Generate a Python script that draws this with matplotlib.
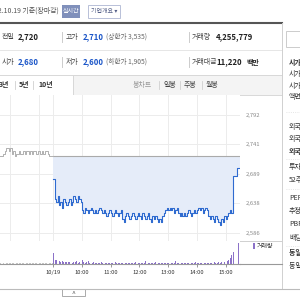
# %% 1.0 Libraries and data

import numpy as np
import matplotlib.pyplot as plt
from matplotlib.patches import Rectangle

plt.rcParams['font.family'] = ['Noto Sans CJK KR', 'DejaVu Sans']

prev_close = 2720
price_ticks = [2792, 2741, 2689, 2638, 2586]
price_labels = ['2,792', '2,741', '2,689', '2,638', '2,586']
time_labels = ['10/19', '10:00', '11:00', '12:00', '13:00', '14:00', '15:00']

# previous session tail (3-min steps, 13:39 - 15:30)
prev_price = [2720, 2720, 2725, 2730, 2735, 2735, 2730, 2735, 2725, 2730,
              2720, 2725, 2725, 2730, 2725, 2725, 2730, 2725, 2730, 2730,
              2725, 2730, 2725, 2730, 2730, 2725, 2730, 2730, 2725, 2730,
              2725, 2730, 2730, 2725, 2720, 2720, 2720]
prev_volume = [15, 20, 18, 25, 15, 20, 18, 22, 15, 20,
               18, 15, 20, 22, 15, 18, 20, 15, 22, 18,
               15, 20, 18, 15, 22, 18, 20, 15, 18, 22,
               20, 18, 25, 20, 22, 25, 30]

# 10/19 session (3-min steps, 09:00 - 15:30)
day_price = [2680, 2645, 2640, 2650, 2635, 2640, 2630, 2645, 2640, 2635,
             2640, 2645, 2635, 2640, 2650, 2645, 2640, 2650, 2645, 2640,
             2625, 2620, 2630, 2625, 2620, 2625, 2630, 2625, 2620, 2625,
             2620, 2625, 2630, 2625, 2620, 2625, 2620, 2615, 2620, 2625,
             2620, 2615, 2620, 2625, 2620, 2615, 2620, 2625, 2610, 2605,
             2615, 2620, 2615, 2610, 2615, 2620, 2615, 2610, 2615, 2620,
             2615, 2610, 2620, 2615, 2610, 2615, 2620, 2610, 2605, 2615,
             2610, 2615, 2610, 2605, 2610, 2605, 2615, 2620, 2625, 2630,
             2625, 2630, 2625, 2630, 2620, 2625, 2630, 2620, 2615, 2620,
             2615, 2620, 2615, 2620, 2625, 2620, 2615, 2620, 2625, 2620,
             2625, 2630, 2625, 2630, 2620, 2625, 2630, 2625, 2615, 2610,
             2615, 2610, 2605, 2615, 2610, 2605, 2600, 2610, 2605, 2615,
             2610, 2615, 2620, 2625, 2620, 2685, 2685, 2685, 2700, 2700]
day_volume = [220, 80, 90, 60, 70, 50, 60, 40, 50, 45,
              40, 35, 45, 30, 40, 35, 60, 30, 40, 35,
              90, 40, 30, 35, 60, 30, 25, 30, 40, 25,
              30, 25, 20, 35, 25, 30, 20, 25, 30, 20,
              25, 20, 30, 45, 20, 25, 30, 20, 25, 20,
              20, 25, 20, 30, 20, 25, 20, 35, 20, 25,
              20, 25, 30, 20, 60, 25, 20, 25, 20, 25,
              20, 35, 25, 20, 25, 20, 25, 30, 20, 25,
              25, 20, 30, 20, 25, 55, 20, 25, 30, 20,
              25, 20, 30, 25, 20, 25, 30, 20, 25, 40,
              25, 30, 20, 25, 45, 25, 30, 20, 25, 30,
              25, 30, 35, 25, 30, 35, 30, 50, 35, 40,
              45, 60, 80, 120, 180, 240, 0, 0, 0, 420]

quote_row1 = [('전일', '2,720', '#222222', ''), ('고가', '2,710', '#1a55c8', '(상한가 3,535)'),
              ('거래량', '4,255,779', '#222222', '')]
quote_row2 = [('시가', '2,680', '#1a55c8', ''), ('저가', '2,600', '#1a55c8', '(하한가 1,905)'),
              ('거래대금', '11,220', '#222222', '백만')]

side_items = [('시가총액', True), ('시가총액', False), ('시가총액순위', False), ('액면가|매매단위', False),
              ('외국인한도주식수(A)', False), ('외국인보유주식수(B)', False), ('외국인소진율(B/A)', True),
              ('투자의견|목표주가', False), ('52주최고|최저', False),
              ('PER|EPS', False), ('추정PER|EPS', False), ('PBR|BPS', False), ('배당수익률', False),
              ('동일업종 PER', True), ('동일업종 등락률', False)]
side_y = [62, 74, 86, 97, 127, 139, 151, 167, 180, 198, 211, 224, 238, 253, 266]

# %% 2.0 Page frame

fig = plt.figure(figsize=(3, 3), dpi=100)
bg = fig.add_axes([0, 0, 1, 1])
bg.set_xlim(0, 300)
bg.set_ylim(300, 0)
bg.axis('off')


def txt(x, y, s, size=5, color='#333333', weight='normal', ha='left'):
    bg.text(x, y, s, fontsize=size, color=color, fontweight=weight, ha=ha, va='center')


# top line
txt(-6, 11, '22.10.19 기준(장마감)', size=5, color='#555555')
bg.add_patch(Rectangle((62, 5), 18, 13, facecolor='#8090bb', edgecolor='none'))
txt(71, 11.5, '실시간', size=4.3, color='white', ha='center')
bg.add_patch(Rectangle((88, 5), 32, 13, facecolor='white', edgecolor='#b8c0d8', lw=0.7))
txt(104, 11.5, '기업개요 ▾', size=4.3, color='#556088', ha='center')
bg.plot([0, 282], [23, 23], color='#555555', lw=1.5)

# quote rows
lab_x = [2, 66, 192]
val_x = [18, 83, 216]
for row, y in [(quote_row1, 37), (quote_row2, 62)]:
    for i, (lab, val, col, extra) in enumerate(row):
        txt(lab_x[i], y, lab, size=5, color='#444444')
        txt(val_x[i], y, val, size=5.6, color=col, weight='bold')
        if extra:
            if i == 2:
                txt(246, y, extra, size=5, color='#222222', weight='bold')
            else:
                txt(106, y, extra, size=4.8, color='#666666')
    for sx in [62, 189]:
        bg.plot([sx, sx], [y - 5, y + 5], color='#cccccc', lw=0.7)
bg.plot([0, 282], [50, 50], color='#e6e6e6', lw=0.7)

# period tabs
bg.add_patch(Rectangle((73, 75), 209, 20, facecolor='#f4f4f4', edgecolor='none'))
bg.plot([0, 282], [75, 75], color='#d8d8d8', lw=0.7)
bg.plot([0, 282], [95, 95], color='#d8d8d8', lw=0.7)
bg.plot([73, 73], [75, 95], color='#d8d8d8', lw=0.7)
for x, s in [(-1, '3년'), (19, '5년'), (38, '10년')]:
    txt(x, 85, s, size=5, color='#333333', weight='bold')
for sx in [15, 33, 159, 180, 202]:
    bg.plot([sx, sx], [81, 89], color='#d0d0d0', lw=0.6)
txt(133, 85, '봉차트', size=5, color='#999999')
for x, s in [(163, '일봉'), (184, '주봉'), (206, '월봉')]:
    txt(x, 85, s, size=5, color='#444444')

# right sidebar
bg.plot([282, 282], [23, 289], color='#d0d0d0', lw=0.7)
bg.add_patch(Rectangle((286, 31), 20, 16, facecolor='white', edgecolor='#cccccc', lw=0.7))
for (s, bold), y in zip(side_items, side_y):
    txt(289, y, s, size=5, color='#333333', weight='bold' if bold else 'normal')
for y in [112, 159, 189, 246]:
    bg.plot([286, 300], [y, y], color='#dddddd', lw=0.6, ls=':')

# bottom edge
bg.plot([0, 300], [289, 289], color='#bbbbbb', lw=0.8)
bg.add_patch(Rectangle((62, 289), 23, 7, facecolor='white', edgecolor='#aaaaaa', lw=0.7))
txt(73.5, 293.5, '^', size=5, color='#555555', ha='center')

# %% 3.0 Price panel

prev_t = -1.85 + 0.05 * np.arange(len(prev_price))
day_t = 0.05 * np.arange(len(day_price))
day_t_end = np.append(day_t, 6.5)
day_p_end = np.append(day_price, day_price[-1])

ax = fig.add_axes([0, 1 - 241 / 300, 240 / 300, 146 / 300])
ax.set_xlim(-1.857, 6.505)
ax.set_ylim(2571.2, 2827.9)
ax.fill_between(day_t_end, day_p_end, prev_close, step='post', color='#e5ecf9', lw=0)
ax.plot([0, 6.5], [prev_close, prev_close], color='#aaaaaa', lw=0.8)
ax.plot(np.append(prev_t, 0), np.append(prev_price, prev_close), color='#b0b0b0', lw=0.7,
        drawstyle='steps-post')
ax.plot(day_t_end, day_p_end, color='#2f6bd0', lw=0.8, drawstyle='steps-post')
ax.set_xticks([-1.5, -0.5, 0, 1, 2, 3, 4, 5, 6])
ax.set_yticks(price_ticks)
ax.set_yticklabels(price_labels)
ax.yaxis.tick_right()
ax.grid(True, color='#ececec', lw=0.7)
ax.set_axisbelow(True)
ax.tick_params(axis='y', length=0, pad=4, labelsize=4.2, labelcolor='#888888')
ax.tick_params(axis='x', length=0, labelbottom=False)
for sp in ax.spines.values():
    sp.set_visible(False)

# %% 4.0 Volume panel

vax = fig.add_axes([0, 1 - 264 / 300, 240 / 300, 23 / 300])
vax.set_xlim(-1.857, 6.505)
vax.set_ylim(0, 460)
vax.bar(prev_t, prev_volume, width=0.03, align='edge', color='#c6c6c6', lw=0)
vax.bar(day_t, day_volume, width=0.03, align='edge', color='#8c72c8', lw=0)
vax.set_xticks(range(7))
vax.set_xticklabels(time_labels)
vax.set_yticks([])
vax.tick_params(axis='x', length=2.5, width=0.6, color='#888888', labelsize=4.2,
                labelcolor='#333333', pad=1.5)
for side in ['top', 'left', 'right']:
    vax.spines[side].set_visible(False)
vax.spines['bottom'].set_color('#999999')
vax.spines['bottom'].set_linewidth(0.8)
bg.plot([0, 282], [241, 241], color='#d0d0d0', lw=0.7)
bg.plot([240, 282], [264, 264], color='#999999', lw=0.8)
bg.add_patch(Rectangle((253, 243), 2, 6, facecolor='#8c72c8', edgecolor='none'))
txt(257, 246, '거래량', size=4.3, color='#333333')

fig.savefig('out.png', dpi=100)
